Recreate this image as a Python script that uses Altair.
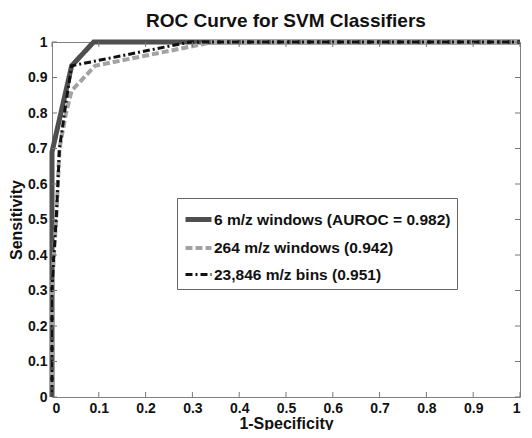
import altair as alt
import pandas as pd

series_names = [
    "6 m/z windows (AUROC = 0.982)",
    "264 m/z windows (0.942)",
    "23,846 m/z bins (0.951)",
]

# ROC points (1-Specificity, Sensitivity)
fpr_6 = [0.0, 0.0, 0.042, 0.089, 1.0]
tpr_6 = [0.0, 0.69, 0.933, 1.0, 1.0]

fpr_264 = [0.0, 0.0, 0.004, 0.009, 0.016, 0.03, 0.042, 0.092, 0.345, 1.0]
tpr_264 = [0.0, 0.3, 0.4, 0.5, 0.7, 0.8, 0.863, 0.933, 1.0, 1.0]

fpr_bins = [0.0, 0.0, 0.004, 0.009, 0.016, 0.03, 0.042, 0.295, 1.0]
tpr_bins = [0.0, 0.3, 0.4, 0.5, 0.7, 0.83, 0.933, 1.0, 1.0]

tick_values = [0, 0.1, 0.2, 0.3, 0.4, 0.5, 0.6, 0.7, 0.8, 0.9, 1]

line_colors = ["#4f4f4f", "#a3a3a3", "#111111"]
line_dashes = [[1, 0], [7, 3], [7, 3, 2, 3]]
line_widths = [5, 3, 2]

rows = []
for name, xs, ys in [
    (series_names[0], fpr_6, tpr_6),
    (series_names[1], fpr_264, tpr_264),
    (series_names[2], fpr_bins, tpr_bins),
]:
    for i, (a, b) in enumerate(zip(xs, ys)):
        rows.append({"series": name, "fpr": a, "tpr": b, "idx": i})
df = pd.DataFrame(rows)
ticks_df = pd.DataFrame({"v": tick_values})

W, H = 468, 355
FONT = "Liberation Sans"

xscale = alt.Scale(domain=[0, 1], nice=False, zero=False)
yscale = alt.Scale(domain=[0, 1], nice=False, zero=False)

x_axis = alt.Axis(values=tick_values, format="~g", title="1-Specificity",
                  ticks=False, domain=False, grid=False, labelPadding=4,
                  titlePadding=0, labelOverlap=False)
y_axis = alt.Axis(values=tick_values, format="~g", title="Sensitivity",
                  ticks=False, domain=False, grid=False, labelPadding=5,
                  titlePadding=3, labelOverlap=False)

lines = alt.Chart(df).mark_line(clip=False, strokeCap="butt", strokeJoin="miter").encode(
    x=alt.X("fpr:Q", scale=xscale, axis=x_axis),
    y=alt.Y("tpr:Q", scale=yscale, axis=y_axis),
    color=alt.Color("series:N", scale=alt.Scale(domain=series_names, range=line_colors), title=None),
    strokeDash=alt.StrokeDash("series:N", scale=alt.Scale(domain=series_names, range=line_dashes), title=None),
    strokeWidth=alt.StrokeWidth("series:N", scale=alt.Scale(domain=series_names, range=line_widths), title=None),
    order="idx:Q",
)

tick_color = "#777777"
bottom_ticks = alt.Chart(ticks_df).mark_rule(color=tick_color, strokeWidth=1).encode(
    x=alt.X("v:Q", scale=xscale, axis=x_axis), y=alt.value(H - 5), y2=alt.value(H))
top_ticks = alt.Chart(ticks_df).mark_rule(color=tick_color, strokeWidth=1).encode(
    x=alt.X("v:Q", scale=xscale, axis=x_axis), y=alt.value(0), y2=alt.value(5))
left_ticks = alt.Chart(ticks_df).mark_rule(color=tick_color, strokeWidth=1).encode(
    y=alt.Y("v:Q", scale=yscale, axis=y_axis), x=alt.value(0), x2=alt.value(5))
right_ticks = alt.Chart(ticks_df).mark_rule(color=tick_color, strokeWidth=1).encode(
    y=alt.Y("v:Q", scale=yscale, axis=y_axis), x=alt.value(W - 5), x2=alt.value(W))

chart = alt.layer(lines, bottom_ticks, top_ticks, left_ticks, right_ticks).properties(
    width=W, height=H,
    title=alt.Title("ROC Curve for SVM Classifiers", fontSize=19, font=FONT,
                    fontWeight="bold", color="#111", offset=1),
    autosize=alt.AutoSizeParams(type="none"),
    padding={"left": 44, "top": 34, "right": 4, "bottom": 33},
).configure_view(
    stroke="#808080", strokeWidth=1
).configure_axis(
    labelFont=FONT, labelFontSize=14, labelFontWeight="bold", labelColor="#111",
    titleFont=FONT, titleFontSize=16, titleFontWeight="bold", titleColor="#111",
).configure_legend(
    orient="none", legendX=125, legendY=156,
    strokeColor="#666", fillColor="white", padding=6,
    labelFont=FONT, labelFontSize=15.5, labelFontWeight="bold", labelColor="#111",
    symbolType="stroke", symbolSize=676, rowPadding=3, labelOffset=0,
    labelLimit=400,
)

chart.save("out.html", embed_options={"renderer": "svg", "actions": False})
